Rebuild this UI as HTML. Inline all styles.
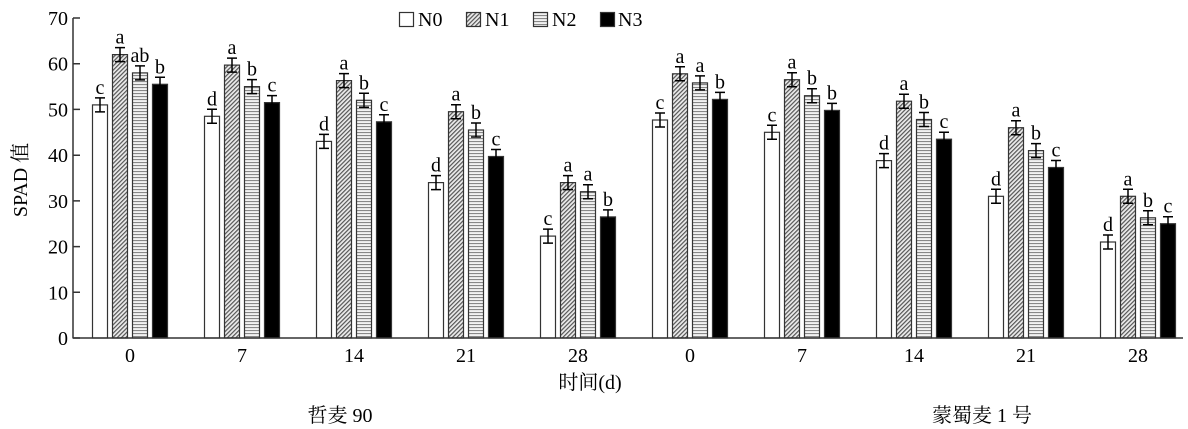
<!DOCTYPE html>
<html><head><meta charset="utf-8"><style>body{margin:0;background:#fff}svg{display:block}text{font-family:"Liberation Serif","Noto Serif CJK SC",serif;fill:#000;font-size:20px}
.b0{fill:#fff}.b1{fill:url(#p1)}.b2{fill:url(#p2)}.b3{fill:#000}.b0,.b1,.b2,.b3{stroke:#333;stroke-width:1.2}.l{text-anchor:middle}</style></head><body>
<svg width="1188" height="429" xmlns="http://www.w3.org/2000/svg">
<defs>
<pattern id="p1" width="3" height="3" patternUnits="userSpaceOnUse" patternTransform="rotate(45)"><rect width="3" height="3" fill="#ececec"/><rect width="1.2" height="3" fill="#555"/></pattern>
<pattern id="p2" width="4" height="3" patternUnits="userSpaceOnUse"><rect width="4" height="3" fill="#f2f2f2"/><rect width="4" height="1.1" fill="#888"/></pattern>
</defs>
<rect class="b0" x="92.5" y="104.9" width="15" height="233.1"/><rect class="b1" x="112.5" y="54.6" width="15" height="283.4"/><rect class="b2" x="132.5" y="72.9" width="15" height="265.1"/><rect class="b3" x="152.5" y="84.3" width="15" height="253.7"/>
<rect class="b0" x="204.5" y="116.3" width="15" height="221.7"/><rect class="b1" x="224.5" y="65.1" width="15" height="272.9"/><rect class="b2" x="244.5" y="86.6" width="15" height="251.4"/><rect class="b3" x="264.5" y="102.6" width="15" height="235.4"/>
<rect class="b0" x="316.5" y="141.4" width="15" height="196.6"/><rect class="b1" x="336.5" y="80.6" width="15" height="257.4"/><rect class="b2" x="356.5" y="100.3" width="15" height="237.7"/><rect class="b3" x="376.5" y="121.8" width="15" height="216.2"/>
<rect class="b0" x="428.5" y="182.6" width="15" height="155.4"/><rect class="b1" x="448.5" y="111.7" width="15" height="226.3"/><rect class="b2" x="468.5" y="130" width="15" height="208"/><rect class="b3" x="488.5" y="156.5" width="15" height="181.5"/>
<rect class="b0" x="540.5" y="236.1" width="15" height="101.9"/><rect class="b1" x="560.5" y="182.6" width="15" height="155.4"/><rect class="b2" x="580.5" y="191.7" width="15" height="146.3"/><rect class="b3" x="600.5" y="216.9" width="15" height="121.1"/>
<rect class="b0" x="652.5" y="120" width="15" height="218"/><rect class="b1" x="672.5" y="73.8" width="15" height="264.2"/><rect class="b2" x="692.5" y="82.9" width="15" height="255.1"/><rect class="b3" x="712.5" y="99.4" width="15" height="238.6"/>
<rect class="b0" x="764.5" y="132.3" width="15" height="205.7"/><rect class="b1" x="784.5" y="79.7" width="15" height="258.3"/><rect class="b2" x="804.5" y="95.7" width="15" height="242.3"/><rect class="b3" x="824.5" y="110.4" width="15" height="227.6"/>
<rect class="b0" x="876.5" y="160.6" width="15" height="177.4"/><rect class="b1" x="896.5" y="101.2" width="15" height="236.8"/><rect class="b2" x="916.5" y="119.5" width="15" height="218.5"/><rect class="b3" x="936.5" y="139.2" width="15" height="198.8"/>
<rect class="b0" x="988.5" y="196.3" width="15" height="141.7"/><rect class="b1" x="1008.5" y="127.7" width="15" height="210.3"/><rect class="b2" x="1028.5" y="150.6" width="15" height="187.4"/><rect class="b3" x="1048.5" y="167.5" width="15" height="170.5"/>
<rect class="b0" x="1100.5" y="242" width="15" height="96"/><rect class="b1" x="1120.5" y="196.3" width="15" height="141.7"/><rect class="b2" x="1140.5" y="217.8" width="15" height="120.2"/><rect class="b3" x="1160.5" y="223.7" width="15" height="114.3"/>
<path fill="none" stroke="#000" stroke-width="1.5" d="
M100 97.9V111.9M95 97.9h10M95 111.9h10 M120 47.6V61.6M115 47.6h10M115 61.6h10 M140 65.9V79.9M135 65.9h10M135 79.9h10 M160 77.3V91.3M155 77.3h10M155 91.3h10
M212 109.3V123.3M207 109.3h10M207 123.3h10 M232 58.1V72.1M227 58.1h10M227 72.1h10 M252 79.6V93.6M247 79.6h10M247 93.6h10 M272 95.6V109.6M267 95.6h10M267 109.6h10
M324 134.4V148.4M319 134.4h10M319 148.4h10 M344 73.6V87.6M339 73.6h10M339 87.6h10 M364 93.3V107.3M359 93.3h10M359 107.3h10 M384 114.8V128.8M379 114.8h10M379 128.8h10
M436 175.6V189.6M431 175.6h10M431 189.6h10 M456 104.7V118.7M451 104.7h10M451 118.7h10 M476 123V137M471 123h10M471 137h10 M496 149.5V163.5M491 149.5h10M491 163.5h10
M548 229.1V243.1M543 229.1h10M543 243.1h10 M568 175.6V189.6M563 175.6h10M563 189.6h10 M588 184.7V198.7M583 184.7h10M583 198.7h10 M608 209.9V223.9M603 209.9h10M603 223.9h10
M660 113V127M655 113h10M655 127h10 M680 66.8V80.8M675 66.8h10M675 80.8h10 M700 75.9V89.9M695 75.9h10M695 89.9h10 M720 92.4V106.4M715 92.4h10M715 106.4h10
M772 125.3V139.3M767 125.3h10M767 139.3h10 M792 72.7V86.7M787 72.7h10M787 86.7h10 M812 88.7V102.7M807 88.7h10M807 102.7h10 M832 103.4V117.4M827 103.4h10M827 117.4h10
M884 153.6V167.6M879 153.6h10M879 167.6h10 M904 94.2V108.2M899 94.2h10M899 108.2h10 M924 112.5V126.5M919 112.5h10M919 126.5h10 M944 132.2V146.2M939 132.2h10M939 146.2h10
M996 189.3V203.3M991 189.3h10M991 203.3h10 M1016 120.7V134.7M1011 120.7h10M1011 134.7h10 M1036 143.6V157.6M1031 143.6h10M1031 157.6h10 M1056 160.5V174.5M1051 160.5h10M1051 174.5h10
M1108 235V249M1103 235h10M1103 249h10 M1128 189.3V203.3M1123 189.3h10M1123 203.3h10 M1148 210.8V224.8M1143 210.8h10M1143 224.8h10 M1168 216.7V230.7M1163 216.7h10M1163 230.7h10"/>
<g class="l">
<text x="100" y="93.9">c</text><text x="120" y="43.6">a</text><text x="140" y="61.9">ab</text><text x="160" y="73.3">b</text>
<text x="212" y="105.3">d</text><text x="232" y="54.1">a</text><text x="252" y="75.6">b</text><text x="272" y="91.6">c</text>
<text x="324" y="130.4">d</text><text x="344" y="69.6">a</text><text x="364" y="89.3">b</text><text x="384" y="110.8">c</text>
<text x="436" y="171.6">d</text><text x="456" y="100.7">a</text><text x="476" y="119">b</text><text x="496" y="145.5">c</text>
<text x="548" y="225.1">c</text><text x="568" y="171.6">a</text><text x="588" y="180.7">a</text><text x="608" y="205.9">b</text>
<text x="660" y="109">c</text><text x="680" y="62.8">a</text><text x="700" y="71.9">a</text><text x="720" y="88.4">b</text>
<text x="772" y="121.3">c</text><text x="792" y="68.7">a</text><text x="812" y="84.7">b</text><text x="832" y="99.4">b</text>
<text x="884" y="149.6">d</text><text x="904" y="90.2">a</text><text x="924" y="108.5">b</text><text x="944" y="128.2">c</text>
<text x="996" y="185.3">d</text><text x="1016" y="116.7">a</text><text x="1036" y="139.6">b</text><text x="1056" y="156.5">c</text>
<text x="1108" y="231">d</text><text x="1128" y="185.3">a</text><text x="1148" y="206.8">b</text><text x="1168" y="212.7">c</text>
<text x="130" y="362">0</text><text x="242" y="362">7</text><text x="354" y="362">14</text><text x="466" y="362">21</text><text x="578" y="362">28</text>
<text x="690" y="362">0</text><text x="802" y="362">7</text><text x="914" y="362">14</text><text x="1026" y="362">21</text><text x="1138" y="362">28</text>
<text x="590" y="389">时间(d)</text>
<text x="340" y="422">哲麦 90</text>
<text x="982" y="422">蒙蜀麦 1 号</text>
</g>
<line x1="73" y1="18" x2="73" y2="338.5" stroke="#333" stroke-width="1.5"/>
<line x1="73" y1="338" x2="1183" y2="338" stroke="#333" stroke-width="1.5"/>
<path stroke="#333" stroke-width="1.5" d="M73 338h7M73 292.3h7M73 246.6h7M73 200.9h7M73 155.2h7M73 109.4h7M73 63.7h7M73 18h7"/>
<g text-anchor="end">
<text x="68" y="345">0</text><text x="68" y="299.3">10</text><text x="68" y="253.6">20</text><text x="68" y="207.9">30</text><text x="68" y="162.2">40</text><text x="68" y="116.4">50</text><text x="68" y="70.7">60</text><text x="68" y="25">70</text>
</g>
<text transform="translate(27,180) rotate(-90)" text-anchor="middle">SPAD 值</text>
<rect class="b0" x="399.5" y="12.5" width="14" height="14"/><text x="418" y="26">N0</text>
<rect class="b1" x="466.5" y="12.5" width="14" height="14"/><text x="485" y="26">N1</text>
<rect class="b2" x="533.5" y="12.5" width="14" height="14"/><text x="552" y="26">N2</text>
<rect class="b3" x="600.5" y="12.5" width="14" height="14"/><text x="618" y="26">N3</text>
</svg></body></html>
